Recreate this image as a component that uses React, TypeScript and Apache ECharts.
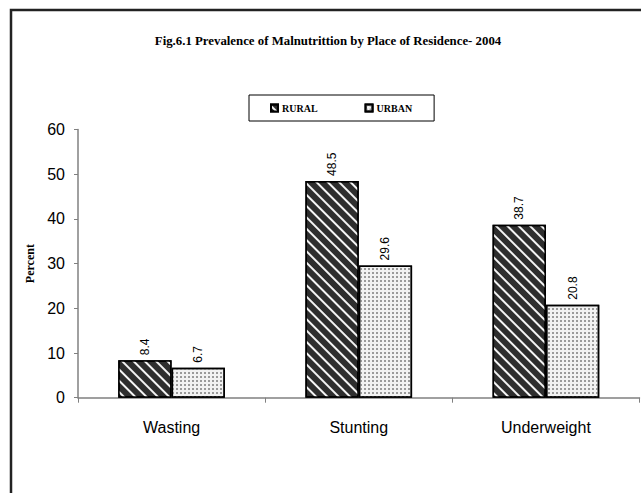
import React, { useEffect, useRef } from "react";
import * as echarts from "echarts";

const categories = ["Wasting", "Stunting", "Underweight"];
const ruralValues = [8.4, 48.5, 38.7];
const urbanValues = [6.7, 29.6, 20.8];
const titleText = "Fig.6.1 Prevalence of Malnutrittion by Place of Residence- 2004";

export default function App() {
  const ref = useRef<HTMLDivElement>(null);
  useEffect(() => {
    if (!ref.current) return;
    const chart = echarts.init(ref.current, undefined, { renderer: "svg" });
    const label = {
      show: true,
      position: "top",
      rotate: 90,
      align: "left",
      verticalAlign: "middle",
      distance: 5,
      color: "#000",
      fontFamily: "Liberation Sans",
      fontSize: 12,
      formatter: (p: any) => Number(p.value).toFixed(1),
    };
    chart.setOption({
      animation: false,
      backgroundColor: "#fff",
      graphic: [
        {
          type: "rect",
          shape: { x: 11, y: 10, width: 700, height: 600 },
          style: { fill: "none", stroke: "#222", lineWidth: 2.5 },
          silent: true,
        },
        {
          type: "text",
          x: 328,
          y: 40,
          scaleX: 0.95,
          style: {
            text: titleText,
            font: 'bold 13.5px "Liberation Serif"',
            fill: "#000",
            align: "center",
            verticalAlign: "middle",
          },
        },
      ],
      legend: {
        left: 249,
        top: 95,
        padding: [8, 22, 8, 21],
        itemGap: 47,
        itemWidth: 7,
        itemHeight: 7,
        icon: "rect",
        borderColor: "#000",
        borderWidth: 1,
        textStyle: {
          fontFamily: "Liberation Serif",
          fontWeight: "bold",
          fontSize: 10,
          color: "#000",
          padding: [0, 0, 0, -1],
        },
        data: ["RURAL", "URBAN"],
      },
      grid: { left: 78, right: 1.5, top: 129.5, bottom: 95.3, containLabel: false },
      xAxis: {
        type: "category",
        data: categories,
        axisLine: { lineStyle: { color: "#808080", width: 1.5 } },
        axisTick: { show: true, length: 5, lineStyle: { color: "#808080" } },
        axisLabel: {
          color: "#000",
          fontFamily: "Liberation Sans",
          fontSize: 16,
          margin: 22,
        },
      },
      yAxis: {
        type: "value",
        min: 0,
        max: 60,
        interval: 10,
        name: "Percent",
        nameLocation: "middle",
        nameGap: 40,
        nameTextStyle: {
          fontFamily: "Liberation Serif",
          fontWeight: "bold",
          fontSize: 12,
          color: "#000",
        },
        splitLine: { show: false },
        axisLine: { show: true, lineStyle: { color: "#808080", width: 1.5 } },
        axisTick: { show: true, length: 4, lineStyle: { color: "#808080" } },
        axisLabel: {
          color: "#000",
          fontFamily: "Liberation Sans",
          fontSize: 16,
          margin: 13,
        },
      },
      series: [
        {
          name: "RURAL",
          type: "bar",
          data: ruralValues,
          barGap: "0%",
          barCategoryGap: "43%",
          itemStyle: {
            color: "#2e2e2e",
            borderColor: "#000",
            borderWidth: 1.5,
            decal: {
              symbol: "rect",
              color: "rgba(255,255,255,0.95)",
              dashArrayX: [1, 0],
              dashArrayY: [2, 5.5],
              rotation: Math.PI / 4,
              symbolSize: 1,
            },
          },
          label,
        },
        {
          name: "URBAN",
          type: "bar",
          data: urbanValues,
          itemStyle: {
            color: "#f2f2f2",
            borderColor: "#000",
            borderWidth: 1.5,
            decal: {
              symbol: "rect",
              color: "#9a9a9a",
              dashArrayX: [1.3, 1.7],
              dashArrayY: [1.3, 1.7],
              rotation: 0,
              symbolSize: 1,
            },
          },
          label,
        },
      ],
    });
    return () => chart.dispose();
  }, []);
  return (
    <div
      ref={ref}
      style={{ position: "absolute", left: 0, top: 0, width: 641, height: 493 }}
    />
  );
}
